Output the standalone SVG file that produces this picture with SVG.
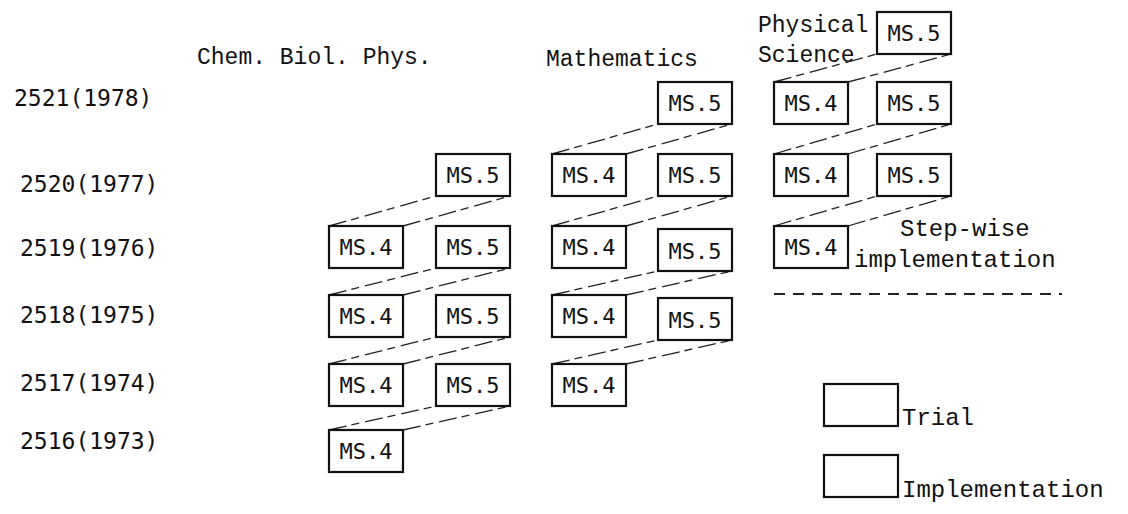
<svg xmlns="http://www.w3.org/2000/svg" width="1128" height="514" viewBox="0 0 1128 514">
<style>
.box{fill:#fff;stroke:#111;stroke-width:2.2}
.bl{font-family:"DejaVu Sans Mono","Liberation Mono",monospace;font-size:22px;fill:#111;text-anchor:middle}
.yr{font-family:"DejaVu Sans Mono","Liberation Mono",monospace;font-size:23px;fill:#111}
.hd{font-family:"Liberation Mono","DejaVu Sans Mono",monospace;font-size:23px;fill:#111}
.lg{font-family:"Liberation Mono","DejaVu Sans Mono",monospace;font-size:24px;fill:#111}
.cn{stroke:#222;stroke-width:1.3;stroke-dasharray:18 5 8 6;fill:none}
</style>
<rect width="1128" height="514" fill="#fff"/>
<g id="headers">
<text class="hd" x="197" y="64">Chem. Biol. Phys.</text>
<text class="hd" x="546" y="66">Mathematics</text>
<text class="hd" x="758" y="32">Physical</text>
<text class="hd" x="758" y="62">Science</text>
</g>
<g id="years">
<text class="yr" x="14" y="106">2521(1978)</text>
<text class="yr" x="20" y="192">2520(1977)</text>
<text class="yr" x="20" y="256">2519(1976)</text>
<text class="yr" x="20" y="323">2518(1975)</text>
<text class="yr" x="20" y="391">2517(1974)</text>
<text class="yr" x="20" y="449">2516(1973)</text>
</g>
<g id="connectors">
<line class="cn" x1="329" y1="430" x2="436" y2="406"/><line class="cn" x1="403" y1="430" x2="510" y2="406"/>
<line class="cn" x1="329" y1="364" x2="436" y2="337"/><line class="cn" x1="403" y1="364" x2="510" y2="337"/>
<line class="cn" x1="329" y1="295" x2="436" y2="268"/><line class="cn" x1="403" y1="295" x2="510" y2="268"/>
<line class="cn" x1="329" y1="226" x2="436" y2="196"/><line class="cn" x1="403" y1="226" x2="510" y2="196"/>
<line class="cn" x1="552" y1="364" x2="658" y2="340"/><line class="cn" x1="626" y1="364" x2="732" y2="340"/>
<line class="cn" x1="552" y1="295" x2="658" y2="271"/><line class="cn" x1="626" y1="295" x2="732" y2="271"/>
<line class="cn" x1="552" y1="226" x2="658" y2="196"/><line class="cn" x1="626" y1="226" x2="732" y2="196"/>
<line class="cn" x1="552" y1="154" x2="658" y2="124"/><line class="cn" x1="626" y1="154" x2="732" y2="124"/>
<line class="cn" x1="774" y1="226" x2="877" y2="196"/><line class="cn" x1="848" y1="226" x2="951" y2="196"/>
<line class="cn" x1="774" y1="154" x2="877" y2="124"/><line class="cn" x1="848" y1="154" x2="951" y2="124"/>
<line class="cn" x1="774" y1="82" x2="877" y2="54"/><line class="cn" x1="848" y1="82" x2="951" y2="54"/>
</g>
<g id="chem-2516-ms4"><rect class="box" x="329" y="430" width="74" height="42"/><text class="bl" x="366" y="459">MS.4</text></g>
<g id="chem-2517-ms4"><rect class="box" x="329" y="364" width="74" height="42"/><text class="bl" x="366" y="393">MS.4</text></g>
<g id="chem-2517-ms5"><rect class="box" x="436" y="364" width="74" height="42"/><text class="bl" x="473" y="393">MS.5</text></g>
<g id="chem-2518-ms4"><rect class="box" x="329" y="295" width="74" height="42"/><text class="bl" x="366" y="324">MS.4</text></g>
<g id="chem-2518-ms5"><rect class="box" x="436" y="295" width="74" height="42"/><text class="bl" x="473" y="324">MS.5</text></g>
<g id="chem-2519-ms4"><rect class="box" x="329" y="226" width="74" height="42"/><text class="bl" x="366" y="255">MS.4</text></g>
<g id="chem-2519-ms5"><rect class="box" x="436" y="226" width="74" height="42"/><text class="bl" x="473" y="255">MS.5</text></g>
<g id="chem-2520-ms5"><rect class="box" x="436" y="154" width="74" height="42"/><text class="bl" x="473" y="183">MS.5</text></g>
<g id="math-2517-ms4"><rect class="box" x="552" y="364" width="74" height="42"/><text class="bl" x="589" y="393">MS.4</text></g>
<g id="math-2518-ms4"><rect class="box" x="552" y="295" width="74" height="42"/><text class="bl" x="589" y="324">MS.4</text></g>
<g id="math-2518-ms5"><rect class="box" x="658" y="298" width="74" height="42"/><text class="bl" x="695" y="328">MS.5</text></g>
<g id="math-2519-ms4"><rect class="box" x="552" y="226" width="74" height="42"/><text class="bl" x="589" y="255">MS.4</text></g>
<g id="math-2519-ms5"><rect class="box" x="658" y="229" width="74" height="42"/><text class="bl" x="695" y="259">MS.5</text></g>
<g id="math-2520-ms4"><rect class="box" x="552" y="154" width="74" height="42"/><text class="bl" x="589" y="183">MS.4</text></g>
<g id="math-2520-ms5"><rect class="box" x="658" y="154" width="74" height="42"/><text class="bl" x="695" y="183">MS.5</text></g>
<g id="math-2521-ms5"><rect class="box" x="658" y="82" width="74" height="42"/><text class="bl" x="695" y="111">MS.5</text></g>
<g id="phys-2519-ms4"><rect class="box" x="774" y="226" width="74" height="42"/><text class="bl" x="811" y="255">MS.4</text></g>
<g id="phys-2520-ms4"><rect class="box" x="774" y="154" width="74" height="42"/><text class="bl" x="811" y="183">MS.4</text></g>
<g id="phys-2520-ms5"><rect class="box" x="877" y="154" width="74" height="42"/><text class="bl" x="914" y="183">MS.5</text></g>
<g id="phys-2521-ms4"><rect class="box" x="774" y="82" width="74" height="42"/><text class="bl" x="811" y="111">MS.4</text></g>
<g id="phys-2521-ms5"><rect class="box" x="877" y="82" width="74" height="42"/><text class="bl" x="914" y="111">MS.5</text></g>
<g id="phys-2522-ms5"><rect class="box" x="877" y="12" width="74" height="42"/><text class="bl" x="914" y="41">MS.5</text></g>
<g id="stepwise">
<text class="lg" x="900" y="236">Step-wise</text>
<text class="lg" x="854" y="267">implementation</text>
<line x1="774" y1="294" x2="1062" y2="294" stroke="#222" stroke-width="1.8" stroke-dasharray="11 8"/>
</g>
<g id="legend">
<rect class="box" x="824" y="384" width="74" height="42"/>
<text class="lg" x="902" y="425">Trial</text>
<rect class="box" x="824" y="455" width="74" height="42"/>
<text class="lg" x="902" y="497">Implementation</text>
</g>
</svg>
